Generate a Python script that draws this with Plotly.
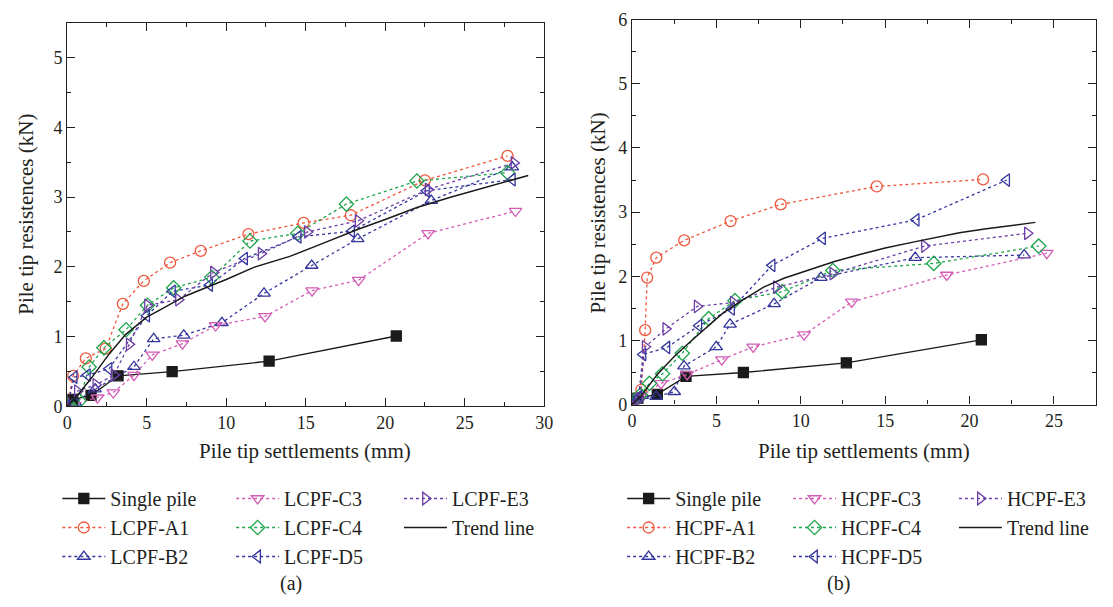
import plotly.graph_objects as go

# ---------------- data: panel (a) ----------------
single_x = [0, 0.35, 1.5, 3.2, 6.6, 12.7, 20.7]
single_y = [0, 0.10, 0.16, 0.44, 0.50, 0.65, 1.01]

la1_x = [0, 0.37, 1.17, 2.42, 3.5, 4.82, 6.47, 8.4, 11.4, 14.87, 17.84, 22.5, 27.7]
la1_y = [0, 0.44, 0.69, 0.83, 1.47, 1.80, 2.06, 2.23, 2.47, 2.63, 2.74, 3.24, 3.59]

lb2_x = [0, 0.5, 1.75, 4.2, 5.44, 7.33, 9.73, 12.38, 15.38, 18.27, 22.9, 28.0]
lb2_y = [0, 0.06, 0.25, 0.57, 0.97, 1.02, 1.20, 1.62, 2.02, 2.40, 2.95, 3.43]

lc3_x = [0, 1.9, 2.9, 4.2, 5.35, 7.25, 9.33, 12.44, 15.4, 18.33, 22.7, 28.2]
lc3_y = [0, 0.125, 0.20, 0.45, 0.74, 0.90, 1.16, 1.29, 1.66, 1.81, 2.48, 2.80]

lc4_x = [0, 0.75, 1.38, 2.31, 3.7, 5.05, 6.7, 9.1, 11.5, 14.5, 17.56, 22.0, 27.7]
lc4_y = [0, 0.08, 0.565, 0.84, 1.10, 1.45, 1.70, 1.85, 2.37, 2.48, 2.90, 3.23, 3.35]

ld5_x = [0, 0.44, 1.27, 2.63, 5.0, 6.62, 8.96, 11.16, 14.53, 17.89, 22.6, 28.0]
ld5_y = [0, 0.42, 0.45, 0.54, 1.30, 1.65, 1.74, 2.12, 2.43, 2.51, 3.09, 3.25]

le3_x = [0, 0.64, 1.8, 2.94, 3.9, 5.05, 7.0, 9.2, 12.2, 15.1, 18.3, 22.7, 28.1]
le3_y = [0, 0.22, 0.31, 0.45, 0.89, 1.45, 1.53, 1.92, 2.19, 2.50, 2.66, 3.11, 3.49]

ltr_x = [0, 0.75, 1.5, 2.63, 3.67, 5.0, 5.9, 7.4, 8.6, 10.0, 11.7, 14.0, 16.0, 18.3, 20.0, 22.0, 24.0, 26.0, 28.0, 29.0]
ltr_y = [0, 0.19, 0.40, 0.75, 1.03, 1.28, 1.39, 1.58, 1.69, 1.82, 1.99, 2.15, 2.33, 2.54, 2.68, 2.85, 2.99, 3.12, 3.25, 3.31]

# ---------------- data: panel (b) ----------------
ha1_x = [0, 0.55, 0.78, 0.9, 1.44, 3.09, 5.84, 8.81, 14.5, 20.8]
ha1_y = [0, 0.23, 1.16, 1.98, 2.29, 2.56, 2.86, 3.12, 3.40, 3.51]

hb2_x = [0, 0.6, 1.43, 2.5, 3.08, 4.99, 5.81, 8.42, 11.19, 16.78, 23.24]
hb2_y = [0, 0.14, 0.125, 0.20, 0.60, 0.90, 1.25, 1.57, 1.98, 2.29, 2.33]

hc3_x = [0, 0.5, 1.72, 3.27, 5.32, 7.18, 10.2, 13.02, 18.65, 24.58]
hc3_y = [0, 0.12, 0.33, 0.47, 0.70, 0.90, 1.09, 1.60, 2.02, 2.36]

hc4_x = [0, 0.5, 1.03, 1.81, 2.98, 4.54, 6.1, 8.9, 11.9, 17.88, 24.1]
hc4_y = [0, 0.15, 0.33, 0.48, 0.80, 1.34, 1.62, 1.76, 2.09, 2.20, 2.47]

hd5_x = [0, 0.4, 0.65, 2.07, 3.96, 5.9, 8.3, 11.29, 16.84, 22.2]
hd5_y = [0, 0.12, 0.78, 0.89, 1.23, 1.49, 2.17, 2.59, 2.88, 3.50]

he3_x = [0, 0.4, 0.78, 2.0, 3.86, 6.0, 8.56, 11.9, 17.33, 23.43]
he3_y = [0, 0.08, 0.90, 1.18, 1.53, 1.59, 1.83, 2.04, 2.47, 2.67]

htr_x = [0, 0.5, 1.5, 2.5, 3.5, 4.5, 5.4, 6.5, 7.8, 9.0, 10.8, 12.0, 13.5, 15.0, 16.8, 18.0, 19.4, 21.0, 22.5, 23.9]
htr_y = [0, 0.12, 0.47, 0.75, 0.99, 1.22, 1.43, 1.62, 1.83, 1.97, 2.13, 2.23, 2.34, 2.44, 2.54, 2.61, 2.68, 2.74, 2.79, 2.84]

# ---------------- styling ----------------
INK = "#231f20"
RED = "#f0563c"
BLUE = "#34369c"
MAGENTA = "#d35cb6"
GREEN = "#1ea54c"
PURPLE = "#6c3fa6"
FONT = "Liberation Serif"

fig = go.Figure()


def series(x, y, name, color, symbol, xa, ya, leg, rank, dash="dot", msize=11, lw=1.3, mode="lines+markers"):
    marker = dict(symbol=symbol, size=msize, color=color,
                  line=dict(color=color, width=1.3))
    fig.add_trace(go.Scatter(
        x=x, y=y, name=name, mode=mode, xaxis=xa, yaxis=ya,
        line=dict(color=color, width=lw, dash=dash),
        marker=marker, legend=leg, legendrank=rank, showlegend=True,
    ))


# panel (a)
series(single_x, single_y, "Single pile", "#1a1a1a", "square", "x", "y", "legend", 1, dash="solid", msize=10)
series(la1_x, la1_y, "LCPF-A1", RED, "circle-open", "x", "y", "legend", 2)
series(lb2_x, lb2_y, "LCPF-B2", BLUE, "triangle-up-open", "x", "y", "legend", 3)
series(lc3_x, lc3_y, "LCPF-C3", MAGENTA, "triangle-down-open", "x", "y", "legend2", 4)
series(lc4_x, lc4_y, "LCPF-C4", GREEN, "diamond-open", "x", "y", "legend2", 5)
series(ld5_x, ld5_y, "LCPF-D5", BLUE, "triangle-left-open", "x", "y", "legend2", 6)
series(le3_x, le3_y, "LCPF-E3", PURPLE, "triangle-right-open", "x", "y", "legend3", 7)
series(ltr_x, ltr_y, "Trend line", "#1a1a1a", "circle", "x", "y", "legend3", 8, dash="solid", lw=1.5, mode="lines")

# panel (b)
series(single_x, single_y, "Single pile", "#1a1a1a", "square", "x2", "y2", "legend4", 1, dash="solid", msize=10)
series(ha1_x, ha1_y, "HCPF-A1", RED, "circle-open", "x2", "y2", "legend4", 2)
series(hb2_x, hb2_y, "HCPF-B2", BLUE, "triangle-up-open", "x2", "y2", "legend4", 3)
series(hc3_x, hc3_y, "HCPF-C3", MAGENTA, "triangle-down-open", "x2", "y2", "legend5", 4)
series(hc4_x, hc4_y, "HCPF-C4", GREEN, "diamond-open", "x2", "y2", "legend5", 5)
series(hd5_x, hd5_y, "HCPF-D5", BLUE, "triangle-left-open", "x2", "y2", "legend5", 6)
series(he3_x, he3_y, "HCPF-E3", PURPLE, "triangle-right-open", "x2", "y2", "legend6", 7)
series(htr_x, htr_y, "Trend line", "#1a1a1a", "circle", "x2", "y2", "legend6", 8, dash="solid", lw=1.5, mode="lines")

W, H = 1113, 607


def px2x(p):
    return p / W


def px2y(p):
    return 1 - p / H


axis_common = dict(
    showline=True, linecolor=INK, linewidth=1.3, mirror="ticks",
    ticks="inside", ticklen=8, tickwidth=1.2, tickcolor=INK,
    showgrid=False, zeroline=False,
    tickfont=dict(family=FONT, size=18, color=INK),
)

fig.update_layout(
    width=W, height=H,
    margin=dict(l=0, r=0, t=0, b=0),
    paper_bgcolor="white", plot_bgcolor="white",
    font=dict(family=FONT, color=INK),
    xaxis=dict(domain=[px2x(63), px2x(546)], range=[0, 30], dtick=5, anchor="y",
               minor=dict(ticks="inside", dtick=2.5, ticklen=4, tickcolor=INK), **axis_common),
    yaxis=dict(domain=[px2y(410), px2y(13)], range=[0, 5.5], dtick=1, anchor="x",
               minor=dict(ticks="inside", dtick=0.5, ticklen=4, tickcolor=INK), **axis_common),
    xaxis2=dict(domain=[px2x(635), px2x(1105)], range=[0, 27.5], dtick=5, anchor="y2",
                minor=dict(ticks="inside", dtick=2.5, ticklen=4, tickcolor=INK), **axis_common),
    yaxis2=dict(domain=[px2y(408), px2y(10)], range=[0, 6], dtick=1, anchor="x2",
                minor=dict(ticks="inside", dtick=0.5, ticklen=4, tickcolor=INK), **axis_common),
)

leg_common = dict(orientation="v", yanchor="top", xanchor="left", y=px2y(485),
                  bgcolor="rgba(0,0,0,0)", borderwidth=0, itemwidth=43,
                  font=dict(family=FONT, size=20, color=INK), traceorder="normal")
fig.update_layout(
    legend=dict(x=px2x(53), **leg_common),
    legend2=dict(x=px2x(229), **leg_common),
    legend3=dict(x=px2x(399), **leg_common),
    legend4=dict(x=px2x(625), **leg_common),
    legend5=dict(x=px2x(793), **leg_common),
    legend6=dict(x=px2x(961), **leg_common),
)

ann_font = dict(family=FONT, size=21, color=INK)
fig.add_annotation(text="Pile tip settlements (mm)", x=px2x(304), y=px2y(456), xref="paper", yref="paper",
                   showarrow=False, font=ann_font, xanchor="center", yanchor="middle")
fig.add_annotation(text="Pile tip settlements (mm)", x=px2x(870), y=px2y(456), xref="paper", yref="paper",
                   showarrow=False, font=ann_font, xanchor="center", yanchor="middle")
fig.add_annotation(text="Pile tip resistences (kN)", x=px2x(21), y=px2y(211), xref="paper", yref="paper",
                   showarrow=False, font=ann_font, textangle=-90, xanchor="center", yanchor="middle")
fig.add_annotation(text="Pile tip resistences (kN)", x=px2x(601), y=px2y(210), xref="paper", yref="paper",
                   showarrow=False, font=ann_font, textangle=-90, xanchor="center", yanchor="middle")
fig.add_annotation(text="(a)", x=px2x(290), y=px2y(593), xref="paper", yref="paper",
                   showarrow=False, font=dict(family=FONT, size=20, color=INK), xanchor="center", yanchor="middle")
fig.add_annotation(text="(b)", x=px2x(844), y=px2y(593), xref="paper", yref="paper",
                   showarrow=False, font=dict(family=FONT, size=20, color=INK), xanchor="center", yanchor="middle")

fig.write_html("out.html")
